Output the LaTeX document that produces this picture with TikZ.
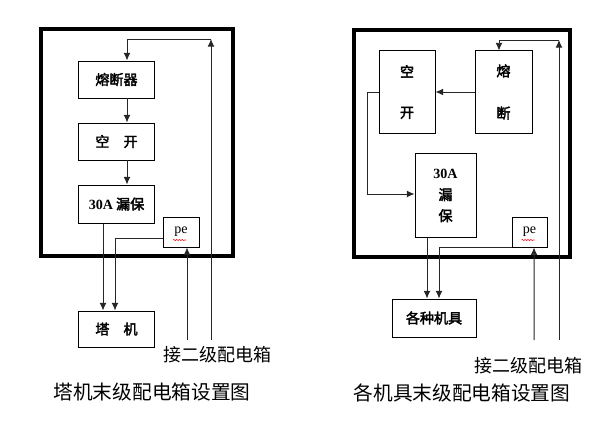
\documentclass[tikz,border=0pt]{standalone}
\usepackage{fontspec}
\setmainfont{Liberation Serif}
\newfontfamily\cjk{Noto Sans CJK SC}
\newfontfamily\cjkb[FakeBold=2.5]{Noto Sans CJK SC}
\usetikzlibrary{calc,arrows.meta,decorations.pathmorphing}
\begin{document}
\begin{tikzpicture}[x=0.025cm, y=-0.025cm, line width=0.7pt,
  box/.style={draw, inner sep=0pt, align=center, font=\cjkb\fontsize{10}{12}\selectfont},
  frame/.style={line width=2.8pt},
  wire/.style={black!85, ->, >={Latex[length=5.5pt,width=5pt]}},
  wavy/.style={red, line width=0.4pt, decorate, decoration={snake, amplitude=0.4pt, segment length=2pt}},
  feed/.style={font=\cjk\fontsize{12.8}{14}\selectfont},
  caption/.style={font=\cjk\fontsize{14}{16}\selectfont}]
\useasboundingbox (0,0) rectangle (615,440);
\draw[frame] (41,29) rectangle (233,256);
\node[box, minimum width=1.875cm, minimum height=0.925cm] (fuseA) at (116.5,79.5) {熔断器};
\node[box, minimum width=1.875cm, minimum height=0.925cm] (kkA) at (116.5,141.5) {空\quad 开};
\node[box, minimum width=1.875cm, minimum height=0.95cm] (lbA) at (116.5,204) {{\rmfamily\bfseries 30A} 漏保};
\node[box, minimum width=0.9cm, minimum height=0.75cm, font=\rmfamily\fontsize{10}{12}\selectfont] (peA) at (181,232) {pe};
\node[box, minimum width=1.875cm, minimum height=0.9cm] (tjA) at (116.5,329) {塔\quad 机};
\draw[wavy] ($(peA.center)+(-8,8)$) -- ($(peA.center)+(5,8)$);
\coordinate (topA) at (211,39);
\coordinate (inA) at (211,340);
\coordinate (peinA) at (187,340);
\draw[wire] (inA) -- (topA);
\draw[wire] (topA) -| ($(fuseA.north)+(10.5,0)$);
\draw[wire] ($(fuseA.south)+(10.5,0)$) -- ($(kkA.north)+(10.5,0)$);
\draw[wire] ($(kkA.south)+(10.5,0)$) -- ($(lbA.north)+(10.5,0)$);
\draw[wire] ($(lbA.south)+(-13.5,0)$) -- ($(tjA.north)+(-13.5,0)$);
\draw[wire] ($(peA.west)+(0,6)$) -| ($(tjA.north)+(-1.5,0)$);
\draw[wire] (peinA) -- ($(peA.south)+(6,0)$);
\node[feed] (feedA) at (217,355) {接二级配电箱};
\node[caption] (capA) at (152,392) {塔机末级配电箱设置图};
\draw[frame] (354,30) rectangle (570,257);
\node[box, minimum width=1.4cm, minimum height=2.05cm] (kkB) at (407,92) {空\\[17pt]开};
\node[box, minimum width=1.425cm, minimum height=2.05cm] (fuseB) at (503.5,92) {熔\\[18pt]断};
\node[box, minimum width=1.525cm, minimum height=2.075cm] (lbB) at (445.5,195.5) {{\rmfamily\bfseries 30A}\\[3.5pt]漏\\[3pt]保};
\node[box, minimum width=0.875cm, minimum height=0.75cm, font=\rmfamily\fontsize{10}{12}\selectfont] (peB) at (529.5,232) {pe};
\node[box, minimum width=2.1cm, minimum height=0.95cm] (jjB) at (434,318) {各种机具};
\draw[wavy] ($(peB.center)+(-8,8)$) -- ($(peB.center)+(5,8)$);
\coordinate (topB) at (559,40);
\coordinate (inB) at (559,340);
\coordinate (peinB) at (534,340);
\coordinate (bendB) at (367,92);
\draw[wire] (inB) -- (topB);
\draw[wire] (topB) -| ($(fuseB.north)+(-4.5,0)$);
\draw[wire] (fuseB.west) -- (kkB.east);
\draw[wire] (kkB.west) -- (bendB) |- ($(lbB.west)+(0,-1.5)$);
\draw[wire] ($(lbB.south)+(-18.5,0)$) -- ($(jjB.north)+(-7,0)$);
\draw[wire] (peB.south west) -| ($(jjB.north)+(5,0)$);
\draw[wire] (peinB) -- ($(peB.south)+(4.5,0)$);
\node[feed] (feedB) at (528,366) {接二级配电箱};
\node[caption] (capB) at (462,393) {各机具末级配电箱设置图};
\end{tikzpicture}
\end{document}
